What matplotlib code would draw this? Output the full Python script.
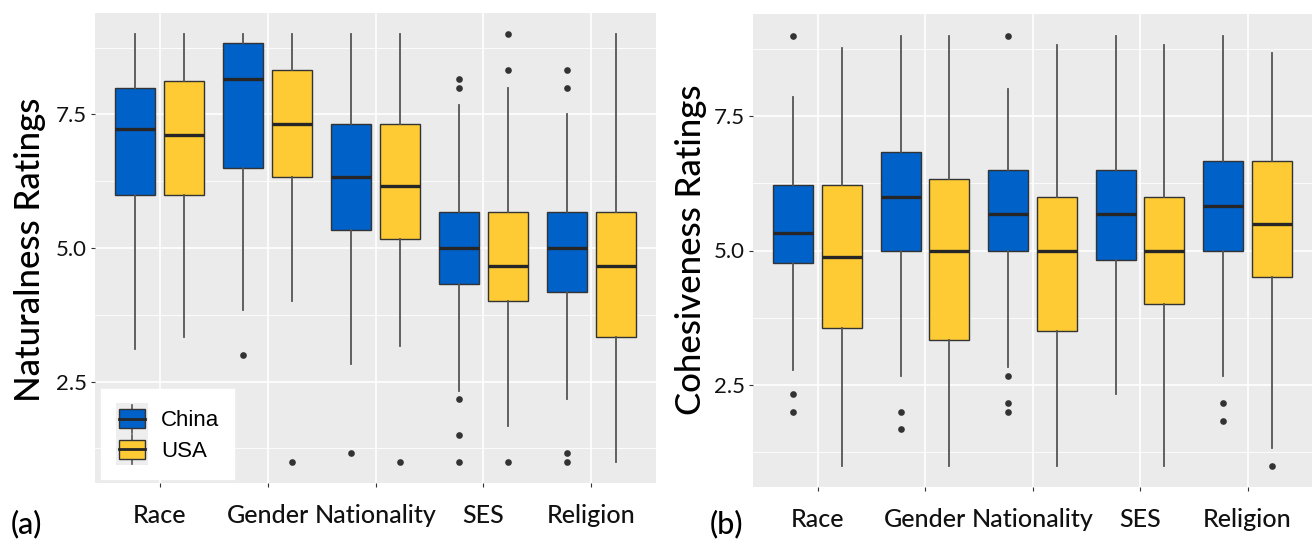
import matplotlib
matplotlib.use("Agg")
import matplotlib.pyplot as plt
from matplotlib.patches import Rectangle
from matplotlib.lines import Line2D
from matplotlib.legend_handler import HandlerBase

categories = ["Race", "Gender", "Nationality", "SES", "Religion"]
groups = ["China", "USA"]
colors = {"China": "#0061C9", "USA": "#FECB34"}

# ---- Naturalness ratings (panel a) ----
nat_china_whislo = [3.1, 3.83, 2.83, 2.33, 2.17]
nat_china_q1 = [6.0, 6.5, 5.33, 4.33, 4.17]
nat_china_med = [7.22, 8.17, 6.33, 5.0, 5.0]
nat_china_q3 = [8.0, 8.83, 7.33, 5.67, 5.67]
nat_china_whishi = [9.0, 9.0, 9.0, 7.67, 7.5]
nat_china_fliers = [[], [3.0], [1.17], [8.17, 8.0, 2.17, 1.5, 1.0], [8.33, 8.0, 1.17, 1.0]]

nat_usa_whislo = [3.33, 4.0, 3.17, 1.67, 1.0]
nat_usa_q1 = [6.0, 6.33, 5.17, 4.0, 3.33]
nat_usa_med = [7.12, 7.33, 6.17, 4.67, 4.67]
nat_usa_q3 = [8.12, 8.33, 7.33, 5.67, 5.67]
nat_usa_whishi = [9.0, 9.0, 9.0, 8.0, 9.0]
nat_usa_fliers = [[], [1.0], [1.0], [9.0, 8.33, 1.0], []]

# ---- Cohesiveness ratings (panel b) ----
coh_china_whislo = [2.78, 2.67, 2.83, 2.33, 2.67]
coh_china_q1 = [4.77, 5.0, 5.0, 4.83, 5.0]
coh_china_med = [5.33, 6.0, 5.67, 5.67, 5.83]
coh_china_q3 = [6.21, 6.83, 6.5, 6.5, 6.67]
coh_china_whishi = [7.86, 9.0, 8.0, 9.0, 9.0]
coh_china_fliers = [[9.0, 2.33, 2.0], [2.0, 1.67], [9.0, 2.67, 2.17, 2.0], [], [2.17, 1.83]]

coh_usa_whislo = [1.0, 1.0, 1.0, 1.0, 1.33]
coh_usa_q1 = [3.55, 3.33, 3.5, 4.0, 4.5]
coh_usa_med = [4.88, 5.0, 5.0, 5.0, 5.5]
coh_usa_q3 = [6.21, 6.33, 6.0, 6.0, 6.67]
coh_usa_whishi = [8.77, 9.0, 8.83, 8.83, 8.67]
coh_usa_fliers = [[], [], [], [], [1.0]]

yticks = [2.5, 5.0, 7.5]
ytick_labels = ["2.5", "5.0", "7.5"]
minor_yticks = [1.25, 3.75, 6.25, 8.75]

LABEL_FONT = "Lato"
BG = "#EBEBEB"
EDGE = "#333333"


def make_stats(whislo, q1, med, q3, whishi, fliers):
    return [dict(whislo=a, q1=b, med=c, q3=d, whishi=e, fliers=f)
            for a, b, c, d, e, f in zip(whislo, q1, med, q3, whishi, fliers)]


def draw_panel(ax, stats_by_group):
    n = len(categories)
    offsets = {"China": -0.225, "USA": 0.225}
    for g in groups:
        pos = [i + 1 + offsets[g] for i in range(n)]
        ax.bxp(stats_by_group[g], positions=pos, widths=0.37,
               patch_artist=True, showcaps=False, manage_ticks=False,
               boxprops=dict(facecolor=colors[g], edgecolor=EDGE, linewidth=1.0),
               medianprops=dict(color="#262626", linewidth=2.4, solid_capstyle="butt"),
               whiskerprops=dict(color="#555555", linewidth=1.3),
               flierprops=dict(marker="o", markerfacecolor="#333333",
                               markeredgecolor="none", markersize=4.8),
               zorder=3)
    ax.set_facecolor(BG)
    ax.set_xlim(0.4, n + 0.6)
    ax.set_ylim(0.6, 9.4)
    ax.set_xticks(range(1, n + 1))
    ax.set_xticklabels(categories, fontfamily=LABEL_FONT, fontsize=18, color="#111111",
                       fontweight="medium")
    ax.set_yticks(yticks)
    ax.set_yticklabels(ytick_labels, fontfamily=LABEL_FONT, fontsize=16, color="#111111")
    ax.set_yticks(minor_yticks, minor=True)
    ax.grid(True, which="major", color="white", linewidth=1.2, zorder=0)
    ax.grid(True, which="minor", axis="y", color="white", linewidth=0.6, zorder=0)
    ax.set_axisbelow(True)
    ax.tick_params(axis="both", which="major", length=3, width=0.8, color="#333333", pad=12)
    ax.tick_params(axis="y", which="major", pad=3)
    ax.tick_params(axis="y", which="minor", length=0)
    for s in ax.spines.values():
        s.set_visible(False)


class BoxKeyHandler(HandlerBase):
    def create_artists(self, legend, orig_handle, xdescent, ydescent,
                       width, height, fontsize, trans):
        x0, y0 = -xdescent, -ydescent
        bg = Rectangle((x0, y0), width, height, facecolor="#EEEEEE",
                       edgecolor="none", transform=trans)
        bw = width * 0.8
        bh = height * 0.6
        bx = x0 + (width - bw) / 2
        by = y0 + (height - bh) / 2
        cx = x0 + width / 2
        w1 = Line2D([cx, cx], [y0 + height * 0.04, by], color="#555555", lw=1.2, transform=trans)
        w2 = Line2D([cx, cx], [by + bh, y0 + height * 0.96], color="#555555", lw=1.2, transform=trans)
        box = Rectangle((bx, by), bw, bh, facecolor=orig_handle.get_facecolor(),
                        edgecolor=EDGE, lw=1.0, transform=trans)
        med = Line2D([bx, bx + bw], [by + bh / 2, by + bh / 2], color="#262626",
                     lw=2.0, transform=trans)
        return [bg, w1, w2, box, med]


fig = plt.figure(figsize=(13.12, 5.43), dpi=100)
W, H = 1312.0, 543.0
ax1 = fig.add_axes([95 / W, 1 - 483 / H, (656 - 95) / W, (483 - 13) / H])
ax2 = fig.add_axes([753 / W, 1 - 487 / H, (1312 - 753) / W, (487 - 14) / H])

draw_panel(ax1, {
    "China": make_stats(nat_china_whislo, nat_china_q1, nat_china_med, nat_china_q3,
                        nat_china_whishi, nat_china_fliers),
    "USA": make_stats(nat_usa_whislo, nat_usa_q1, nat_usa_med, nat_usa_q3,
                      nat_usa_whishi, nat_usa_fliers),
})
draw_panel(ax2, {
    "China": make_stats(coh_china_whislo, coh_china_q1, coh_china_med, coh_china_q3,
                        coh_china_whishi, coh_china_fliers),
    "USA": make_stats(coh_usa_whislo, coh_usa_q1, coh_usa_med, coh_usa_q3,
                      coh_usa_whishi, coh_usa_fliers),
})

fig.text(30 / W, 1 - 250 / H, "Naturalness Ratings", rotation=90, ha="center", va="center",
         fontfamily=LABEL_FONT, fontsize=25, color="black", fontweight="medium")
fig.text(691 / W, 1 - 250 / H, "Cohesiveness Ratings", rotation=90, ha="center", va="center",
         fontfamily=LABEL_FONT, fontsize=25, color="black", fontweight="medium")
fig.text(27 / W, 1 - 524 / H, "(a)", ha="center", va="center",
         fontfamily=LABEL_FONT, fontsize=22, color="black", fontweight="medium")
fig.text(727 / W, 1 - 524 / H, "(b)", ha="center", va="center",
         fontfamily=LABEL_FONT, fontsize=22, color="black", fontweight="medium")

handles = [Rectangle((0, 0), 1, 1, facecolor=colors[g]) for g in groups]
leg = ax1.legend(handles, groups, handler_map={Rectangle: BoxKeyHandler()},
                 loc="lower left", bbox_to_anchor=(0.011, 0.008),
                 frameon=True, fancybox=False, framealpha=1.0,
                 edgecolor="white", facecolor="white",
                 prop={"family": "Liberation Sans", "size": 16},
                 handlelength=1.45, handleheight=1.75, labelspacing=0.0,
                 handletextpad=0.6, borderpad=0.65, borderaxespad=0.0)
leg.set_zorder(5)

fig.savefig("out.png", dpi=100)
